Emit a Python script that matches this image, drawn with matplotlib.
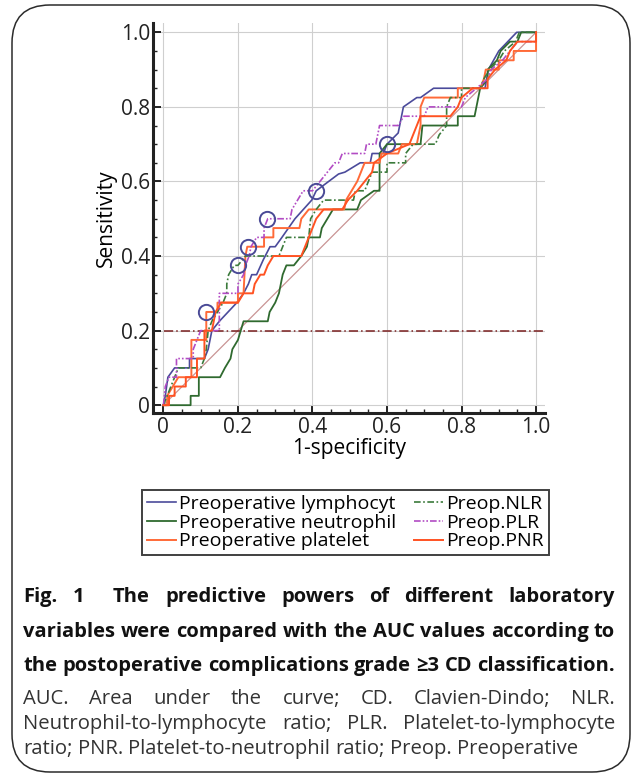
import numpy as np
import matplotlib
matplotlib.use("Agg")
import matplotlib.pyplot as plt
from matplotlib.patches import FancyBboxPatch

plt.rcParams['font.family'] = ['Open Sans', 'DejaVu Sans']

W, H = 633, 775

# ROC curves (1-specificity, sensitivity)
lym_x = [0, 0.005, 0.012, 0.03, 0.07, 0.07, 0.11, 0.12, 0.13, 0.15, 0.197, 0.215, 0.228, 0.237,
         0.25, 0.268, 0.286, 0.3, 0.318, 0.353, 0.398, 0.41, 0.47, 0.487, 0.528, 0.555, 0.56,
         0.59, 0.6, 0.63, 0.644, 0.68, 0.69, 0.725, 0.796, 0.863, 0.872, 0.9, 0.948, 1.0]
lym_y = [0, 0.025, 0.075, 0.1, 0.1, 0.125, 0.125, 0.15, 0.2, 0.225, 0.275, 0.3, 0.325, 0.35,
         0.35, 0.39, 0.425, 0.425, 0.45, 0.5, 0.55, 0.575, 0.62, 0.625, 0.65, 0.65, 0.675,
         0.675, 0.7, 0.73, 0.8, 0.825, 0.825, 0.85, 0.85, 0.85, 0.9, 0.95, 1.0, 1.0]

neu_x = [0, 0.073, 0.073, 0.095, 0.095, 0.152, 0.165, 0.18, 0.185, 0.2, 0.215, 0.28, 0.285,
         0.3, 0.31, 0.32, 0.33, 0.35, 0.37, 0.385, 0.39, 0.42, 0.425, 0.44, 0.455, 0.52, 0.53,
         0.565, 0.58, 0.58, 0.6, 0.69, 0.695, 0.79, 0.79, 0.835, 0.85, 0.87, 0.87, 0.895,
         0.905, 0.93, 0.95, 0.96, 1.0]
neu_y = [0, 0, 0.025, 0.025, 0.075, 0.075, 0.1, 0.125, 0.15, 0.175, 0.225, 0.225, 0.25,
         0.275, 0.3, 0.35, 0.375, 0.375, 0.4, 0.425, 0.45, 0.45, 0.475, 0.5, 0.525, 0.525, 0.55,
         0.575, 0.575, 0.675, 0.7, 0.7, 0.75, 0.75, 0.775, 0.775, 0.85, 0.875, 0.9, 0.925,
         0.95, 0.975, 0.975, 1.0, 1.0]

plt_x = [0, 0.01, 0.01, 0.025, 0.04, 0.075, 0.075, 0.115, 0.115, 0.145, 0.145, 0.2, 0.2,
         0.215, 0.22, 0.225, 0.27, 0.27, 0.295, 0.295, 0.365, 0.37, 0.39, 0.485, 0.49, 0.505,
         0.52, 0.53, 0.54, 0.58, 0.585, 0.63, 0.64, 0.68, 0.69, 0.69, 0.7, 0.79, 0.79, 0.85,
         0.86, 0.865, 0.9, 0.9, 0.94, 0.94, 1.0, 1.0]
plt_y = [0, 0, 0.025, 0.05, 0.075, 0.075, 0.175, 0.175, 0.25, 0.25, 0.275, 0.275, 0.3,
         0.3, 0.4, 0.425, 0.425, 0.45, 0.45, 0.475, 0.475, 0.5, 0.525, 0.525, 0.55, 0.575,
         0.6, 0.625, 0.65, 0.65, 0.675, 0.675, 0.7, 0.7, 0.75, 0.8, 0.825, 0.825, 0.85, 0.85,
         0.875, 0.9, 0.9, 0.925, 0.925, 0.95, 0.95, 1.0]

nlr_x = [0, 0.01, 0.02, 0.03, 0.04, 0.1, 0.11, 0.115, 0.12, 0.13, 0.145, 0.16, 0.17, 0.17,
         0.175, 0.19, 0.2, 0.22, 0.31, 0.32, 0.33, 0.39, 0.395, 0.41, 0.43, 0.51, 0.515, 0.54,
         0.55, 0.56, 0.6, 0.6, 0.65, 0.65, 0.67, 0.73, 0.74, 0.76, 0.76, 0.77, 0.8, 0.8, 0.85,
         0.86, 0.875, 0.9, 0.915, 0.945, 0.955, 1.0]
nlr_y = [0, 0.025, 0.05, 0.075, 0.1, 0.1, 0.125, 0.15, 0.2, 0.225, 0.25, 0.275, 0.3, 0.325,
         0.35, 0.375, 0.375, 0.4, 0.4, 0.425, 0.45, 0.45, 0.5, 0.525, 0.55, 0.55, 0.575, 0.575,
         0.6, 0.625, 0.625, 0.65, 0.65, 0.675, 0.7, 0.7, 0.725, 0.75, 0.8, 0.825, 0.825, 0.85,
         0.85, 0.875, 0.9, 0.925, 0.95, 0.975, 1.0, 1.0]

plr_x = [0, 0.005, 0.015, 0.035, 0.035, 0.08, 0.08, 0.09, 0.1, 0.15, 0.15, 0.2, 0.2, 0.215,
         0.22, 0.23, 0.235, 0.25, 0.27, 0.27, 0.28, 0.34, 0.345, 0.36, 0.375, 0.4, 0.42, 0.44,
         0.46, 0.47, 0.48, 0.54, 0.545, 0.57, 0.575, 0.58, 0.63, 0.645, 0.7, 0.71, 0.8, 0.81,
         0.84, 0.87, 0.88, 0.91, 0.93, 0.95, 1.0, 1.0]
plr_y = [0, 0.05, 0.075, 0.075, 0.125, 0.125, 0.15, 0.175, 0.2, 0.2, 0.3, 0.3, 0.325, 0.35,
         0.375, 0.4, 0.425, 0.45, 0.45, 0.475, 0.5, 0.5, 0.525, 0.55, 0.575, 0.575, 0.6, 0.625,
         0.65, 0.65, 0.675, 0.675, 0.7, 0.7, 0.725, 0.75, 0.75, 0.775, 0.775, 0.8, 0.8, 0.825,
         0.85, 0.875, 0.9, 0.925, 0.95, 0.975, 0.975, 1.0]

pnr_x = [0, 0.015, 0.015, 0.03, 0.03, 0.06, 0.06, 0.09, 0.09, 0.11, 0.11, 0.13, 0.14, 0.155,
         0.2, 0.215, 0.24, 0.245, 0.26, 0.27, 0.28, 0.295, 0.37, 0.38, 0.39, 0.4, 0.41, 0.43,
         0.48, 0.495, 0.52, 0.54, 0.56, 0.565, 0.6, 0.66, 0.67, 0.68, 0.69, 0.77, 0.79, 0.8,
         0.83, 0.87, 0.87, 0.89, 0.92, 0.93, 0.95, 1.0, 1.0]
pnr_y = [0, 0, 0.025, 0.025, 0.05, 0.05, 0.075, 0.075, 0.125, 0.125, 0.2, 0.2, 0.25, 0.275,
         0.275, 0.3, 0.3, 0.325, 0.35, 0.35, 0.375, 0.4, 0.4, 0.425, 0.45, 0.475, 0.5, 0.525,
         0.525, 0.55, 0.575, 0.6, 0.625, 0.65, 0.675, 0.7, 0.725, 0.75, 0.775, 0.775, 0.8, 0.825,
         0.85, 0.85, 0.875, 0.9, 0.925, 0.95, 0.975, 0.975, 1.0]

# optimal cut-off markers
cut_x = [0.115, 0.2, 0.228, 0.278, 0.41, 0.6]
cut_y = [0.25, 0.375, 0.425, 0.5, 0.575, 0.7]

ref_level = 0.2

ticks = [0, 0.2, 0.4, 0.6, 0.8, 1.0]
tick_labels = ["0", "0.2", "0.4", "0.6", "0.8", "1.0"]

fig = plt.figure(figsize=(W / 100, H / 100), dpi=100)

# rounded frame around the whole panel
frame = FancyBboxPatch((0.12, 0.03), 6.18, 7.67,
                       boxstyle="round,pad=0,rounding_size=0.38",
                       transform=fig.dpi_scale_trans, fill=False,
                       edgecolor="#2b2b2b", linewidth=1.1)
fig.patches.append(frame)

ax = fig.add_axes([153 / W, 1 - 413 / H, (545 - 153) / W, (413 - 23) / H])
ax.set_xlim(-0.028, 1.024)
ax.set_ylim(-0.021, 1.025)

ax.grid(True, color="#cfcfcf", linewidth=0.8)
ax.set_axisbelow(True)

ax.plot([0, 1], [0, 1], color="#c99494", linewidth=0.9)
ax.axhline(ref_level, xmin=0.027, color="#7a1f1f", linewidth=1.1, linestyle=(0, (6, 2, 1, 2)))

ax.plot(lym_x, lym_y, color="#4b4b9b", linewidth=1.2, label="Preoperative lymphocyt")
ax.plot(neu_x, neu_y, color="#2f6a2f", linewidth=1.3, label="Preoperative neutrophil")
ax.plot(plt_x, plt_y, color="#ff6a38", linewidth=1.4, label="Preoperative platelet")
ax.plot(nlr_x, nlr_y, color="#3b7a3b", linewidth=1.2, linestyle=(0, (4, 1.5, 1, 1.5)), label="Preop.NLR")
ax.plot(plr_x, plr_y, color="#b24cc4", linewidth=1.2, linestyle=(0, (4, 1.2, 1, 1.2, 1, 1.2)), label="Preop.PLR")
ax.plot(pnr_x, pnr_y, color="#ff5222", linewidth=1.4, label="Preop.PNR")

ax.plot(cut_x, cut_y, linestyle="none", marker="o", markersize=11, markerfacecolor="none",
        markeredgecolor="#4a4a96", markeredgewidth=1.4)

for s in ["top", "right"]:
    ax.spines[s].set_visible(False)
for s in ["left", "bottom"]:
    ax.spines[s].set_linewidth(2.2)
    ax.spines[s].set_color("#222222")

ax.set_xticks(ticks)
ax.set_xticklabels(tick_labels)
ax.set_yticks(ticks)
ax.set_yticklabels(tick_labels)
ax.set_xticks(np.arange(0, 1.001, 0.05), minor=True)
ax.set_yticks(np.arange(0, 1.001, 0.05), minor=True)
ax.tick_params(which="major", direction="in", length=6, width=1.4, labelsize=15,
               colors="#222222", pad=3)
ax.tick_params(which="minor", direction="in", length=3, width=1.0, colors="#222222")
ax.tick_params(axis="y", pad=2)

ax.set_xlabel("1-specificity", fontsize=15, labelpad=0)
ax.set_ylabel("Sensitivity", fontsize=15, labelpad=3)

leg = fig.legend(loc="center", bbox_to_anchor=(345.5 / W, 1 - 522.5 / H), ncol=2,
                 fontsize=14, frameon=True, fancybox=False, handlelength=1.5,
                 handletextpad=0.15, columnspacing=0.9, labelspacing=0.05,
                 borderpad=0.25, borderaxespad=0)
leg.get_frame().set_edgecolor("#111111")
leg.get_frame().set_linewidth(1.4)

# caption, justified by hand
renderer = fig.canvas.get_renderer()

bold_lines = ["Fig. 1|The predictive powers of different laboratory",
              "variables were compared with the AUC values according to",
              "the postoperative complications grade \u22653 CD classification."]
reg_lines = ["AUC. Area under the curve; CD. Clavien-Dindo; NLR.",
             "Neutrophil-to-lymphocyte ratio; PLR. Platelet-to-lymphocyte",
             "ratio; PNR. Platelet-to-neutrophil ratio; Preop. Preoperative"]
bold_y = [597, 632, 666]
reg_y = [699, 724, 749]
x_left, x_right = 23, 615


def text_width(s, size, weight):
    t = fig.text(0, 0, s, fontsize=size, weight=weight)
    w = t.get_window_extent(renderer).width
    t.remove()
    return w


def fit_size(s, target, weight):
    size = 12
    w = text_width(s, size, weight)
    return size * target / w


def draw_line(line, y, size, weight, color, justify):
    parts = line.split("|")
    words = []
    extra = []
    for k, p in enumerate(parts):
        ws = p.split(" ")
        words += ws
        extra += [0] * (len(ws) - 1) + ([14] if k < len(parts) - 1 else [0])
    texts = [fig.text(0, 1 - y / H, w, fontsize=size, weight=weight, color=color, va="center")
             for w in words]
    widths = [t.get_window_extent(renderer).width for t in texts]
    if justify:
        gap = (x_right - x_left - sum(widths) - sum(extra)) / (len(words) - 1)
    else:
        gap = text_width("a b", size, weight) - text_width("ab", size, weight)
    x = x_left
    for t, w, e in zip(texts, widths, extra):
        t.set_x(x / W)
        x += w + gap + e


bsize = fit_size(bold_lines[2], x_right - x_left, "bold")
rsize = fit_size(reg_lines[2], 575 - x_left, "normal")
for line, y in zip(bold_lines, bold_y):
    draw_line(line, y, bsize, "bold", "#111111", True)
for i, (line, y) in enumerate(zip(reg_lines, reg_y)):
    draw_line(line, y, rsize, "normal", "#333333", i < 2)

fig.savefig("out.png", dpi=100)
